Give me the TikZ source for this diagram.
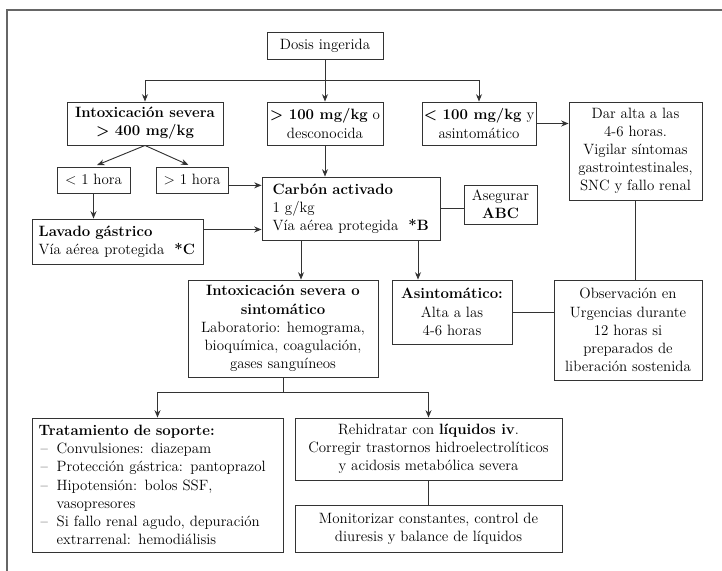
\documentclass[tikz,border=0pt]{standalone}
\usepackage{fontspec}
\usetikzlibrary{arrows.meta,calc}
\newcommand\itm{\makebox[13.5pt][l]{\hspace{1.5pt}--}}
\begin{document}
\begin{tikzpicture}[x=0.75pt,y=-0.75pt,
  font=\fontsize{11.2}{13.6}\selectfont,
  box/.style={draw=black!80, line width=0.7pt, text=black, inner sep=1pt, align=center},
  bx/.style 2 args={box, minimum width=#1*0.75pt, minimum height=#2*0.75pt},
  bl/.style n args={3}{box, align=left, text width=#1, inner xsep=#3, minimum height=#2*0.75pt},
  con/.style={draw=black!80, line width=0.7pt},
  arr/.style={con, -{Stealth[length=5.5pt,width=4.5pt]}},
  frame/.style={draw=black!60, line width=0.8pt}]
\useasboundingbox (0,0) rectangle (722,571);
\draw[frame] (7,571) -- (7,10) -- (722,10);

\node[bx={116}{27}] (dosis) at (325,45.5) {Dosis ingerida};
\node[bx={156}{43}] (sev) at (145,123.5) {\textbf{Intoxicación severa}\\\textbf{> 400 mg/kg}};
\node[bx={116}{43}] (gt) at (325,123.5) {\textbf{> 100 mg/kg} o\\desconocida};
\node[bx={114}{43}] (lt) at (479,123.5) {\textbf{< 100 mg/kg} y\\asintomático};
\node[bx={133}{98}] (dar) at (635.5,151) {Dar alta a las\\4-6 horas.\\Vigilar síntomas\\gastrointestinales,\\SNC y fallo renal};
\node[bx={73}{26}] (h1) at (93.5,180) {< 1 hora};
\node[bx={72}{26}] (h2) at (192,180) {> 1 hora};
\node[bl={117.5pt}{63}{8pt}] (carbon) at (351,208.5) {\textbf{Carbón activado}\\1 g/kg\\\mbox{Vía aérea protegida~~\textbf{*B}}};
\node[bx={73}{39}] (abc) at (500.5,204.5) {Asegurar\\\textbf{ABC}};
\node[bl={118.25pt}{45}{5pt}] (lav) at (117.5,241.5) {\textbf{Lavado gástrico}\\\mbox{Vía aérea protegida~~\textbf{*C}}};
\node[bx={190}{97}] (sint) at (283,328.5) {\textbf{Intoxicación severa o}\\\textbf{sintomático}\\Laboratorio: hemograma,\\bioquímica, coagulación,\\gases sanguíneos};
\node[bx={120}{64}] (asin) at (452,312) {\textbf{Asintomático:}\\Alta a las\\4-6 horas};
\node[bx={148}{100}] (obs) at (628,330) {Observación en\\Urgencias durante\\12 horas si\\preparados de\\liberación sostenida};
\node[bl={178.25pt}{134}{5pt}] (trat) at (157.5,485) {\textbf{Tratamiento de soporte:}\\
\itm Convulsiones: diazepam\\
\itm \mbox{Protección gástrica: pantoprazol}\\
\itm Hipotensión: bolos SSF,\\
\hspace*{13.5pt}vasopresores\\
\itm \mbox{Si fallo renal agudo, depuración}\\
\hspace*{13.5pt}extrarrenal: hemodiálisis};
\node[bx={267}{62}] (reh) at (428.5,449) {Rehidratar con \textbf{líquidos iv}.\\Corregir trastornos hidroelectrolíticos\\y acidosis metabólica severa};
\node[bx={267}{47}] (mon) at (428.5,528.5) {Monitorizar constantes, control de\\diuresis y balance de líquidos};

% connectors
\draw[arr] (dosis.south) -- (gt.north);
\coordinate (bus) at ($(dosis.south)!0.5!(gt.north)$);
\draw[arr] (bus) -| (sev.north);
\draw[arr] (bus) -| (lt.north);
\draw[arr] (lt.east) -- (lt.east -| dar.west);
\draw[arr, shorten >=3pt] (sev.south) -- (h1.north);
\draw[arr, shorten >=3pt] (sev.south) -- (h2.north);
\draw[arr] (h1.south) -- (h1.south |- lav.north);
\coordinate (h2e) at ([yshift=-4pt]h2.east);
\draw[arr] (h2e) -- (h2e -| carbon.west);
\coordinate (lave) at ([yshift=9pt]lav.east);
\draw[arr] (lave) -- (lave -| carbon.west);
\draw[arr] (gt.south) -- (gt.south |- carbon.north);
\draw[con] (carbon.east) -- (carbon.east -| abc.west);
\coordinate (cs1) at ([xshift=-37.5pt]carbon.south);
\coordinate (cs2) at ([xshift=50.25pt]carbon.south);
\draw[arr] (cs1) -- (cs1 |- sint.north);
\draw[arr] (cs2) -- (cs2 |- asin.north);
\draw[con] (dar.south) -- (dar.south |- obs.north);
\draw[con] (asin.east) -- (asin.east -| obs.west);
\draw[con] (sint.south) -- ++(0,15) coordinate (b2);
\draw[arr] (b2) -| (trat.north);
\draw[arr] (b2) -| (reh.north);
\draw[con] (reh.south) -- (mon.north);
\end{tikzpicture}
\end{document}
